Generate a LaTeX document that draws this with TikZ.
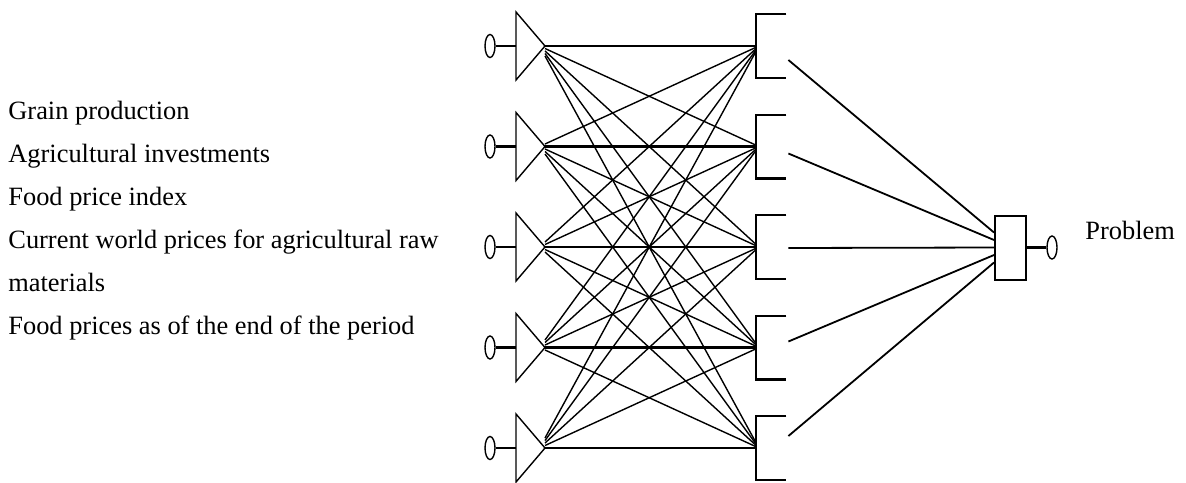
\documentclass[tikz,border=0pt]{standalone}
\usepackage{fontspec}
\setmainfont{Liberation Serif}
\usepackage{tikz}
\usetikzlibrary{shapes.geometric, calc}

\begin{document}
\begin{tikzpicture}[x=0.5pt, y=-0.5pt,
  term/.style={ellipse, draw, line width=0.7pt, minimum width=5pt, minimum height=11.5pt, inner sep=0pt},
  neuron/.style={rectangle, minimum width=15pt, minimum height=31.5pt, inner sep=0pt},
  outbox/.style={rectangle, draw, line width=1pt, minimum width=15.5pt, minimum height=32pt, inner sep=0pt},
  lbl/.style={anchor=base west, inner sep=0pt, font=\fontsize{13.2}{16}\selectfont},
  wire/.style={line width=0.7pt},
  thick wire/.style={line width=1.1pt},
  out wire/.style={line width=0.9pt},
]
\useasboundingbox (0,0) rectangle (1186,482);

% --- input labels ---
\foreach \txt [count=\k] in {Grain production, Agricultural investments, Food price index,
  Current world prices for agricultural raw, materials, Food prices as of the end of the period}
  \node[lbl] (lab\k) at (8, {119+43*(\k-1)}) {\txt};

% --- input layer ---
\foreach \i in {1,...,5} {
  \pgfmathsetmacro{\yy}{46+100.5*(\i-1)}
  \node[term] (in\i) at (490,\yy) {};
  \coordinate (base\i) at (516,\yy);
  \coordinate (tip\i) at (545,\yy);
  \draw[wire] (516,\yy-34) -- (tip\i) -- (516,\yy+34) -- cycle;
  \draw[thick wire] (in\i.east) -- (base\i);
}

% --- hidden layer ---
\foreach \j in {1,...,5} {
  \node[neuron] (hid\j) at (771, {46+100.5*(\j-1)}) {};
  \draw[thick wire] (hid\j.north east) -- (hid\j.north west) -- (hid\j.south west) -- (hid\j.south east);
}

% --- input -> hidden ---
\foreach \i in {1,...,5}
  \foreach \j in {1,...,5} {
    \ifnum\i=\j \def\lw{1.1pt}\else\def\lw{0.7pt}\fi
    \draw[line width=\lw] ($(tip\i)+(0,{2.5*(\j-\i)})$) -- ($(hid\j.west)+(0,{1.5*(\i-\j)})$);
  }

% --- output ---
\node[outbox] (out) at (1010.5,247.5) {};
\node[term] (res) at (1052,247.5) {};
\draw[thick wire] (out.east) -- (res.west);
\foreach \j/\s in {1/14,2/7,3/1,4/-6,5/-12}
  \draw[out wire] ($(hid\j.east)+(2,\s)$) -- ($(out.west)+(0,{7.5*(\j-3)})$);

\node[lbl] (prob) at (1085,239) {Problem};
\end{tikzpicture}
\end{document}
